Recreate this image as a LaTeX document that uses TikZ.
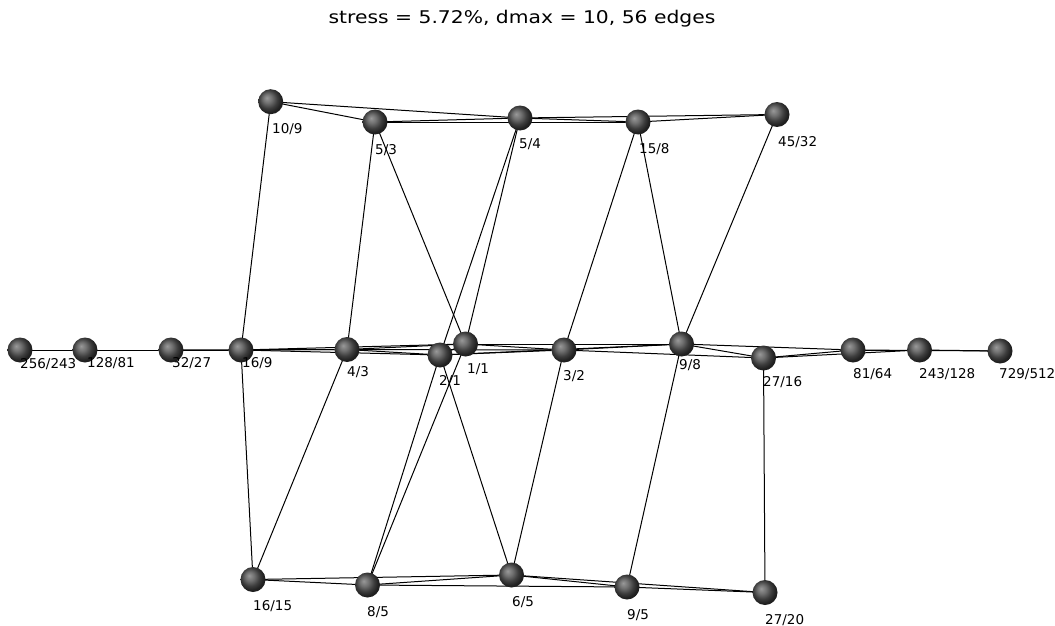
\documentclass[tikz,border=0pt]{standalone}
\usepackage{fontspec}
\setmainfont{DejaVu Sans}
\usetikzlibrary{backgrounds}
\pgfdeclareradialshading{darkball}{\pgfqpoint{-8bp}{8bp}}{color(0bp)=(black!40); color(9bp)=(black!56); color(18bp)=(black!76); color(25bp)=(black!87); color(50bp)=(black)}
\tikzset{
  ball/.style={circle, inner sep=0pt, minimum size=25pt, shade, shading=darkball},
  lbl/.style={anchor=west, inner sep=0pt, font=\fontsize{13.5}{13.5}\selectfont},
  edge/.style={line width=1pt, draw=black}
}
\begin{document}
\begin{tikzpicture}[x=1pt, y=-1pt]
\useasboundingbox (0,0) rectangle (1055,626);
\node[font=\fontsize{17.5}{17.5}\selectfont, inner sep=0pt] (title) at (522,19) {\scalebox{1.16}[1]{stress = 5.72\%, dmax = 10, 56 edges}};
% balls
\node[ball] (n10o9) at (270.7,101.7) {};
\node[ball] (n5o3) at (375,122) {};
\node[ball] (n5o4) at (520,118) {};
\node[ball] (n15o8) at (638,122) {};
\node[ball] (n45o32) at (777,114.5) {};
\node[ball] (n256o243) at (20,350) {};
\node[ball] (n128o81) at (85,350) {};
\node[ball] (n32o27) at (171,350) {};
\node[ball] (n16o9) at (241,350) {};
\node[ball] (n4o3) at (347,349.5) {};
\node[ball] (n2o1) at (440,355) {};
\node[ball] (n1o1) at (465.5,344) {};
\node[ball] (n3o2) at (564,350) {};
\node[ball] (n9o8) at (681.5,344) {};
\node[ball] (n27o16) at (763.5,358) {};
\node[ball] (n81o64) at (853,350) {};
\node[ball] (n243o128) at (919.5,350) {};
\node[ball] (n729o512) at (1000,351) {};
\node[ball] (n16o15) at (253,579.5) {};
\node[ball] (n8o5) at (367.5,585) {};
\node[ball] (n6o5) at (511.5,575) {};
\node[ball] (n9o5) at (627,587) {};
\node[ball] (n27o20) at (765,592.5) {};
% labels
\node[lbl] (l10o9) at (272,129) {10/9};
\node[lbl] (l5o3) at (375,150) {5/3};
\node[lbl] (l5o4) at (519,144) {5/4};
\node[lbl] (l15o8) at (639,149) {15/8};
\node[lbl] (l45o32) at (778,142) {45/32};
\node[lbl] (l256o243) at (20,364) {256/243};
\node[lbl] (l128o81) at (87,363) {128/81};
\node[lbl] (l32o27) at (172,363) {32/27};
\node[lbl] (l16o9) at (242,363) {16/9};
\node[lbl] (l4o3) at (347,372) {4/3};
\node[lbl] (l2o1) at (439,381) {2/1};
\node[lbl] (l1o1) at (467,369) {1/1};
\node[lbl] (l3o2) at (563,376) {3/2};
\node[lbl] (l9o8) at (679,365) {9/8};
\node[lbl] (l27o16) at (763,382) {27/16};
\node[lbl] (l81o64) at (853,374) {81/64};
\node[lbl] (l243o128) at (919,374) {243/128};
\node[lbl] (l729o512) at (999,374) {729/512};
\node[lbl] (l16o15) at (253,606) {16/15};
\node[lbl] (l8o5) at (367,612) {8/5};
\node[lbl] (l6o5) at (512,602) {6/5};
\node[lbl] (l9o5) at (627,615) {9/5};
\node[lbl] (l27o20) at (765,620) {27/20};
% edges
\begin{pgfonlayer}{background}
\foreach \a/\b in {
 n1o1/n9o8, n1o1/n5o4, n1o1/n4o3, n1o1/n3o2, n1o1/n8o5, n1o1/n5o3, n1o1/n2o1, n1o1/n16o9,
 n256o243/n32o27, n256o243/n128o81,
 n16o15/n6o5, n16o15/n4o3, n16o15/n8o5, n16o15/n16o9,
 n10o9/n5o4, n10o9/n5o3, n10o9/n16o9,
 n9o8/n81o64, n9o8/n45o32, n9o8/n3o2, n9o8/n27o16, n9o8/n9o5, n9o8/n15o8, n9o8/n2o1,
 n32o27/n4o3, n32o27/n128o81, n32o27/n16o9,
 n6o5/n27o20, n6o5/n3o2, n6o5/n8o5, n6o5/n9o5, n6o5/n2o1,
 n5o4/n45o32, n5o4/n5o3, n5o4/n15o8, n5o4/n2o1,
 n81o64/n729o512, n81o64/n27o16, n81o64/n243o128,
 n4o3/n3o2, n4o3/n5o3, n4o3/n16o9, n4o3/n2o1,
 n27o20/n27o16, n27o20/n9o5,
 n45o32/n15o8,
 n729o512/n243o128,
 n3o2/n27o16, n3o2/n15o8, n3o2/n2o1,
 n128o81/n16o9,
 n8o5/n9o5, n8o5/n2o1,
 n5o3/n15o8,
 n27o16/n243o128,
 n16o9/n2o1}
 \draw[edge] (\a.center) -- (\b.center);
\end{pgfonlayer}
\end{tikzpicture}
\end{document}
